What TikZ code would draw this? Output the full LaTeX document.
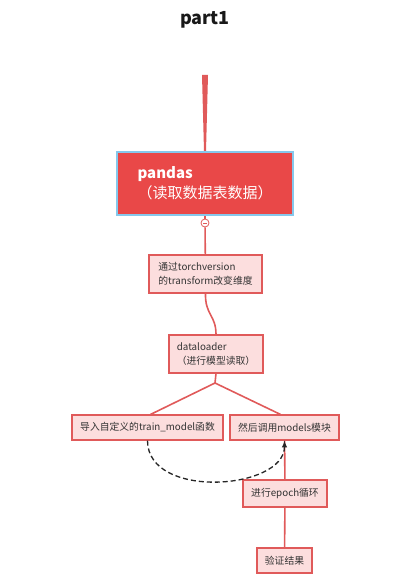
\documentclass[tikz,border=0pt]{standalone}
\usepackage{fontspec}
\setmainfont{Noto Sans CJK SC}
\usepackage{tikz}
\pgfdeclarelayer{bg}
\pgfsetlayers{bg,main}
\definecolor{boxred}{HTML}{E94848}
\definecolor{boxpink}{HTML}{FCDEDE}
\definecolor{edgered}{HTML}{E05A5A}
\definecolor{rimblue}{HTML}{86C8EC}
\tikzset{
    every node/.style={rectangle, inner sep=0mm, draw=edgered, line width=1.1pt, fill=boxpink, text=black!80, align=left, font=\fontsize{9.8}{13.5}\selectfont}
}
\tikzset{mainbox/.style={fill=boxred, draw=rimblue, line width=1.2pt, text=white, font=\fontsize{15}{20}\selectfont}}
\tikzset{link/.style={draw=edgered, line width=1.6pt}}

\begin{document}
\begin{tikzpicture}
        \useasboundingbox (0pt,0pt) rectangle (418pt,-588pt);
        \node (t0) [draw=none, fill=none, text=black!90, font=\bfseries\fontsize{18}{21}\selectfont] at (205pt, -20pt) {part1};
        \coordinate (k0) at (205pt, -75pt);
        \node (b0) [mainbox, minimum width=176pt, minimum height=63pt] at (205pt, -183.5pt) {\textbf{pandas}\\（读取数据表数据）};
        \node (c0) [circle, minimum size=8pt, fill=white, line width=0.8pt] at (205pt, -223pt) {};
        \node (b1) [minimum width=113pt, minimum height=38pt] at (205.5pt, -274pt) {通过torchversion\\的transform改变维度};
        \node (b2) [minimum width=94pt, minimum height=38pt] at (216pt, -354pt) {dataloader\\（进行模型读取）};
        \coordinate (k1) at (215pt, -383pt);
        \node (b3) [minimum width=151pt, minimum height=25pt] at (147.5pt, -427.5pt) {导入自定义的train\_model函数};
        \node (b4) [minimum width=109pt, minimum height=25pt] at (284.5pt, -427.5pt) {然后调用models模块};
        \node (b5) [minimum width=84pt, minimum height=27pt] at (285pt, -493.5pt) {进行epoch循环};
        \node (b6) [minimum width=55pt, minimum height=25pt] at (284.5pt, -560.5pt) {验证结果};
        \draw [edgered, line width=0.9pt] ([xshift=-2pt]c0.center) -- ([xshift=2pt]c0.center);
        \begin{pgfonlayer}{bg}
                \fill [edgered] ([xshift=-3pt]k0) -- ([xshift=3pt]k0) -- ([xshift=1pt]b0.north) -- ([xshift=-1pt]b0.north) -- cycle;
                \draw (b0) edge [link] (c0);
                \draw (c0) edge [link] (b1);
                \draw [link] (b1.south) .. controls (205pt, -315pt) and (216pt, -315pt) .. (b2.north);
                \draw (b2.south) edge [link] (k1);
                \draw (k1) edge [link] ([xshift=3pt]b3.north);
                \draw (k1) edge [link] ([xshift=-4pt]b4.north);
                \draw (b4) edge [link] (b5);
                \draw (b5) edge [link] (b6);
        \end{pgfonlayer}
        \draw [dash pattern=on 5pt off 3pt, line width=1.3pt, black!85, -latex] (b3.south) .. controls (147.5pt, -500pt) and (284.5pt, -490pt) .. (b4.south);
\end{tikzpicture}
\end{document}
